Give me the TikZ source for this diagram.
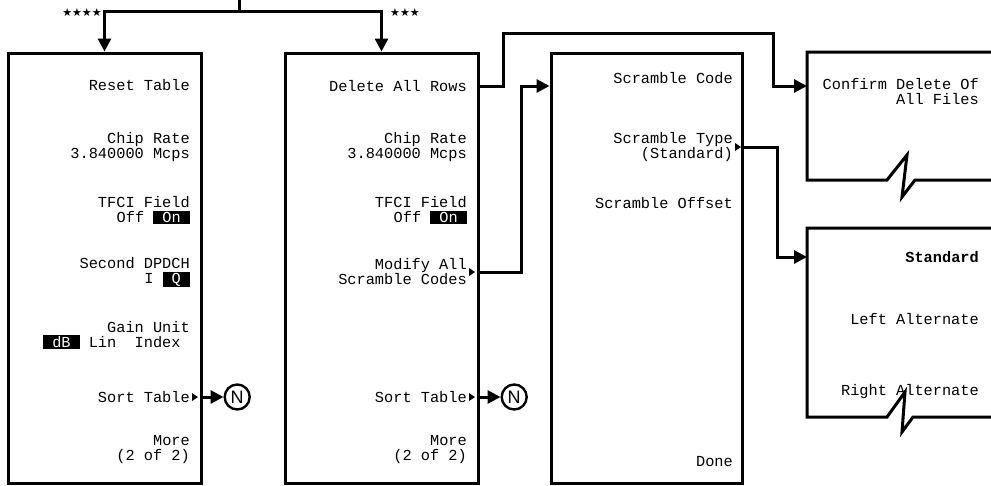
\documentclass[tikz,border=0pt]{standalone}
\usepackage{fontspec}
\usepackage{xcolor}
\usetikzlibrary{positioning,arrows.meta,calc}
\newfontfamily\keyfont{Liberation Mono}
\newfontfamily\symfont{DejaVu Sans}
\newfontfamily\tagfont{Liberation Sans}
\newcommand{\hl}[1]{{\setlength{\fboxsep}{1pt}\colorbox{black}{\textcolor{white}{\hspace{8pt}#1\hspace{8pt}}}}}
\tikzset{
  menu/.style    = {draw, line width=3pt, minimum width=193pt, minimum height=430pt,
                    inner sep=0pt},
  panel/.style   = {minimum width=184pt, inner sep=0pt, outer sep=0pt},
  outline/.style = {line width=3pt},
  key/.style     = {anchor=east, align=right, inner sep=0pt,
                    font={\keyfont\fontsize{15.3pt}{15pt}\selectfont}},
  wire/.style    = {line width=3pt},
  link/.style    = {wire, -{Triangle[length=13pt,width=13pt]}},
  nbub/.style    = {circle, draw, line width=2.4pt, minimum size=25pt, inner sep=0pt,
                    font={\tagfont\fontsize{18pt}{18pt}\selectfont}},
  stars/.style   = {inner sep=0pt, font={\symfont\fontsize{11pt}{11pt}\selectfont}},
}
\begin{document}
\begin{tikzpicture}[x=1pt,y=-1pt]
  \useasboundingbox (0,0) rectangle (991,485);

  % --- softkey menus ---
  \node[menu] (m1) at (104.5,268) {};
  \node[menu] (m2) at (381.5,268) {};
  \node[menu, minimum width=191pt] (m3) at (646.5,268) {};
  \node[panel, minimum height=128pt] (cf) at (899,116) {};
  \node[panel, minimum height=189pt] (sel) at (899,322.5) {};
  \draw[outline] (cf.north east) -- (cf.north west) -- (cf.south west) -- ++(80,0)
    -- ++(20,-25) -- ++(-5,42) -- ++(13,-17) -- (cf.south east);
  \draw[outline] (sel.north east) -- (sel.north west) -- (sel.south west) -- ++(80,0)
    -- ++(18,-25) -- ++(-3,40) -- ++(11,-15) -- (sel.south east);

  % --- entry from above ---
  \coordinate (root) at (239,0);
  \coordinate (split) at (239,11);
  \draw[wire] (root) -- (split);
  \draw[link] (split) -| (m1.north);
  \draw[link] (split) -| (m2.north);
  \node[stars] (st4) at (82,13) {★★★★};
  \node[stars] (st3) at (405,13) {★★★};

  % --- first menu ---
  \node[key] (reset) at (190,85)  {Reset Table};
  \node[key] (rate1) at (190,147) {Chip Rate\\3.840000 Mcps};
  \node[key] (tfci1) at (190,210) {TFCI Field\\Off \hl{On}};
  \node[key] (dpdch) at (190,272) {Second DPDCH\\I \hl{Q}};
  \node[key] (gain)  at (190,335) {Gain Unit\\\hl{dB} Lin~~Index\phantom{x}};
  \node[key] (sort1) at (190,397) {Sort Table};
  \node[key] (more1) at (190,450) {More\\(2 of 2)};

  % --- second menu ---
  \node[key] (del)   at (467,86)  {Delete All Rows};
  \node[key] (rate2) at (467,147) {Chip Rate\\3.840000 Mcps};
  \node[key] (tfci2) at (467,210) {TFCI Field\\Off \hl{On}};
  \node[key] (mod)   at (467,272) {Modify All\\Scramble Codes};
  \node[key] (sort2) at (467,397) {Sort Table};
  \node[key] (more2) at (467,450) {More\\(2 of 2)};

  % --- scramble menu ---
  \node[key] (scode) at (733,78)  {Scramble Code};
  \node[key] (stype) at (733,147) {Scramble Type\\(Standard)};
  \node[key] (soff)  at (733,203) {Scramble Offset};
  \node[key] (done)  at (733,462) {Done};

  % --- partial menus ---
  \node[key] (conf) at (979,92)  {Confirm Delete Of\\All Files};
  \node[key] (std)  at (979,257) {\bfseries Standard};
  \node[key] (lalt) at (979,319) {Left Alternate};
  \node[key] (ralt) at (979,392) {Right Alternate};

  \foreach \k in {sort1,sort2,mod,stype}
    \fill ([xshift=2pt]\k.east) -- ++(0,-4) -- ++(6,4) -- ++(-6,4) -- cycle;

  % --- links ---
  \draw[link] (m2.east |- del) -- ++(24,0) |- (773,33) |- (cf.west |- del);
  \draw[link] (m2.east |- mod) -- ++(42,0) |- (m3.west |- del);
  \draw[link] (m3.east |- stype) -- ++(34,0) |- (sel.west |- std);

  \coordinate (s1) at (m1.east |- sort1);
  \coordinate (s2) at (m2.east |- sort2);
  \node[nbub, right=21pt of s1] (n1) {N};
  \node[nbub, right=21pt of s2] (n2) {N};
  \draw[link] (s1) -- (n1);
  \draw[link] (s2) -- (n2);
\end{tikzpicture}
\end{document}
